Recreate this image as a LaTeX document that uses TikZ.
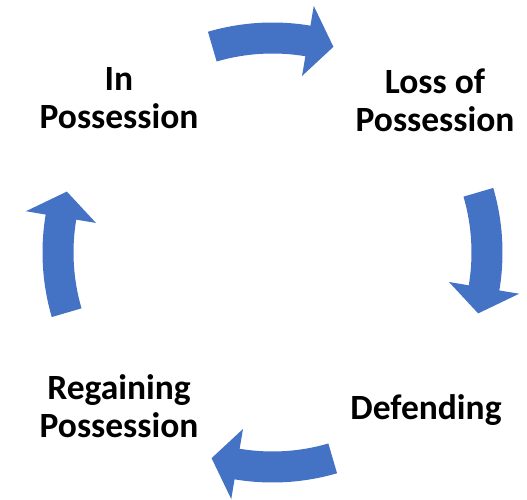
\documentclass[tikz,border=0pt]{standalone}
\usepackage{fontspec}
\setmainfont{Carlito}
\usepackage{tikz}
\usetikzlibrary{positioning}
\definecolor{cycleblue}{HTML}{4472C4}

\begin{document}
\begin{tikzpicture}[x=1pt, y=1pt,
	phase/.style={align=center, font=\fontsize{35.5}{38}\selectfont\bfseries},
	turn/.style={fill=cycleblue}]

\useasboundingbox (0,0) rectangle (527,500);
\coordinate (hub) at (272.5,247.5);

\node [phase] (inposs)   at (119,402)  {In \\ Possession};
\node [phase] (lossposs) at (435,399.5) {Loss of \\ Possession};
\node [phase] (defend)   at (426,90) {Defending};
\node [phase] (regain)   at (119,93.5) {Regaining \\ Possession};

% four curved block arrows, clockwise round the hub
\foreach \a in {90,0,-90,180} {
	\fill [turn, shift={(hub)}] (\a+16.3:230)
		arc [start angle=\a+16.3, end angle=\a-9.5, radius=230]
		-- (\a-9.5:250) -- (\a-16.5:214.5) -- (\a-9.5:179) -- (\a-9.5:199)
		arc [start angle=\a-9.5, end angle=\a+16.3, radius=199] -- cycle;
}

\end{tikzpicture}
\end{document}
